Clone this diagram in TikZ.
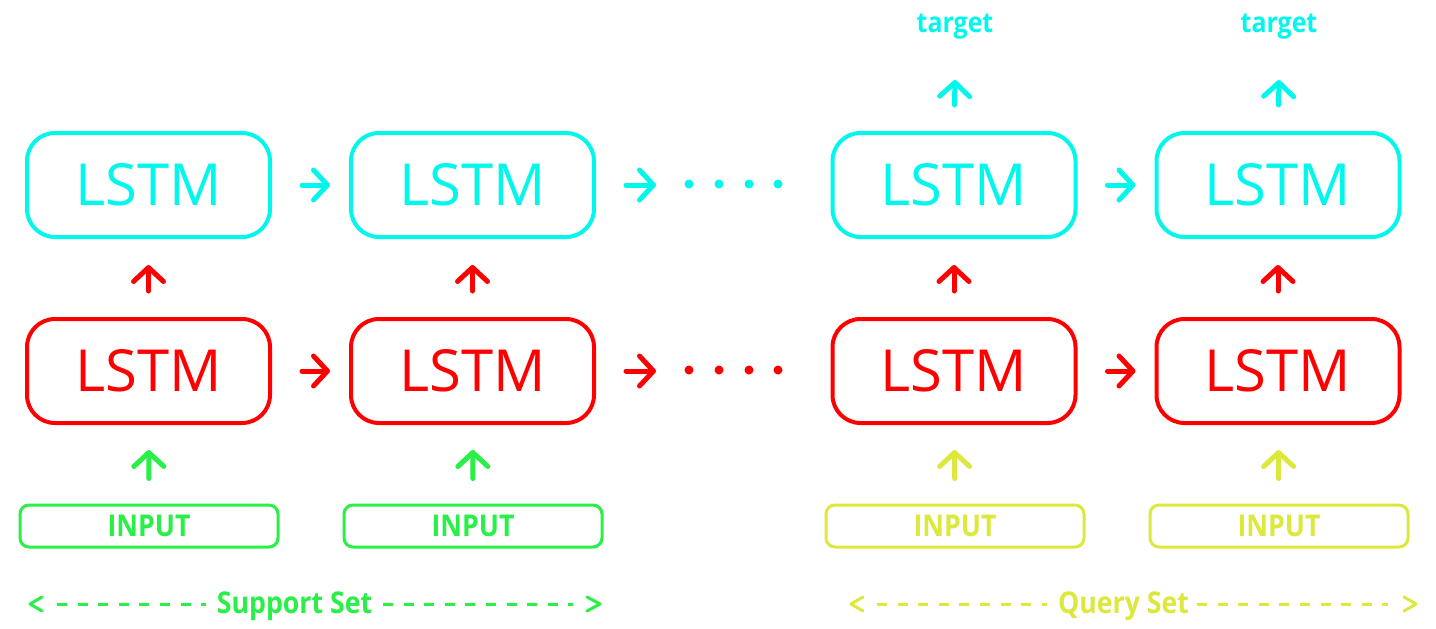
\documentclass[tikz,border=0pt]{standalone}
\usepackage{fontspec}
\setmainfont{Open Sans}
\usetikzlibrary{arrows.meta}
\definecolor{cyc}{RGB}{0,248,236}
\definecolor{rdc}{RGB}{255,0,0}
\definecolor{grc}{RGB}{40,240,70}
\definecolor{ylc}{RGB}{220,232,60}
\newcommand{\narrowbf}{\bfseries\addfontfeature{FakeStretch=0.89}}
\begin{document}
\begin{tikzpicture}[x=1pt,y=-1pt,
  lstm/.style={draw,line width=4pt,rounded corners=28pt,minimum width=243pt,minimum height=104pt,inner sep=0pt,font=\fontsize{58}{60}\selectfont},
  inbox/.style={draw,line width=3pt,rounded corners=9pt,minimum width=258pt,minimum height=42pt,inner sep=0pt,font=\fontsize{30}{32}\selectfont\narrowbf},
  lbl/.style={inner sep=0pt,anchor=base,font=\fontsize{30}{32}\selectfont\narrowbf},
  tg/.style={inner sep=0pt,anchor=base,font=\fontsize{28}{30}\selectfont\narrowbf},
  arr/.style={line width=5pt,line cap=round,-{Straight Barb[length=14pt,width=30pt,round]}},
  hz/.style={arr,shorten <=30pt,shorten >=19pt},
  vt/.style={arr,shorten <=26pt,shorten >=26pt},
  vi/.style={arr,shorten <=25pt,shorten >=25pt},
  dotc/.style={circle,fill,inner sep=0pt,minimum size=9pt},
  dsh/.style={line width=3pt,dash pattern=on 10pt off 10.6pt},
  chev/.style={line width=3pt,line cap=round,line join=round},
]
\useasboundingbox (0,0) rectangle (1436,629);
\fill[white] (0,0) rectangle (1436,629);

% top LSTM row
\node[lstm,cyc] (c1) at (148.5,185) {LSTM};
\node[lstm,cyc] (c2) at (472.5,185) {LSTM};
\node[lstm,cyc] (c3) at (954,185) {LSTM};
\node[lstm,cyc] (c4) at (1278,185) {LSTM};
% bottom LSTM row
\node[lstm,rdc] (r1) at (148.5,371) {LSTM};
\node[lstm,rdc] (r2) at (472.5,371) {LSTM};
\node[lstm,rdc] (r3) at (954,371) {LSTM};
\node[lstm,rdc] (r4) at (1278,371) {LSTM};
% inputs
\node[inbox,grc] (i1) at (149,526) {INPUT};
\node[inbox,grc] (i2) at (473,526) {INPUT};
\node[inbox,ylc] (i3) at (955,526) {INPUT};
\node[inbox,ylc] (i4) at (1279,526) {INPUT};
% targets
\node[tg,cyc] (t3) at (955,32) {target};
\node[tg,cyc] (t4) at (1279,32) {target};

% horizontal arrows
\draw[hz,cyc] (c1) -- (c2);
\draw[hz,cyc] (c3) -- (c4);
\draw[hz,rdc] (r1) -- (r2);
\draw[hz,rdc] (r3) -- (r4);
\coordinate (ce) at (656,185);
\coordinate (re) at (656,371);
\draw[arr,cyc,shorten <=30pt] (c2.east) -- (ce);
\draw[arr,rdc,shorten <=30pt] (r2.east) -- (re);
% dots
\foreach \x/\k in {689/a,719/b,749/c,778/d}{
  \node[dotc,cyc] (dc\k) at (\x,184) {};
  \node[dotc,rdc] (dr\k) at (\x,370) {};
}
% vertical arrows
\foreach \i in {1,2,3,4}{
  \draw[vt,rdc] (r\i) -- (c\i);
}
\draw[vi,grc] (i1) -- (r1);
\draw[vi,grc] (i2) -- (r2);
\draw[vi,ylc] (i3) -- (r3);
\draw[vi,ylc] (i4) -- (r4);
\draw[arr,cyc,shorten <=26pt,shorten >=2pt] (c3.north) -- (955,78) coordinate (e3);
\draw[arr,cyc,shorten <=26pt,shorten >=2pt] (c4.north) -- (1279,78) coordinate (e4);

% set labels
\node[lbl,grc] (ss) at (294.5,613) {Support Set};
\draw[chev,grc] (42,597) -- (30,604) -- (42,611);
\draw[dsh,grc] (57,604) -- (206,604);
\draw[dsh,grc] (383,604) -- (573,604);
\draw[chev,grc] (587,597) -- (600,604) -- (587,611);

\node[lbl,ylc] (qs) at (1123.5,613) {Query Set};
\draw[chev,ylc] (863,597) -- (851,604) -- (863,611);
\draw[dsh,ylc] (877,604) -- (1047,604);
\draw[dsh,ylc] (1197,604) -- (1388,604);
\draw[chev,ylc] (1404,597) -- (1416,604) -- (1404,611);
\end{tikzpicture}
\end{document}
